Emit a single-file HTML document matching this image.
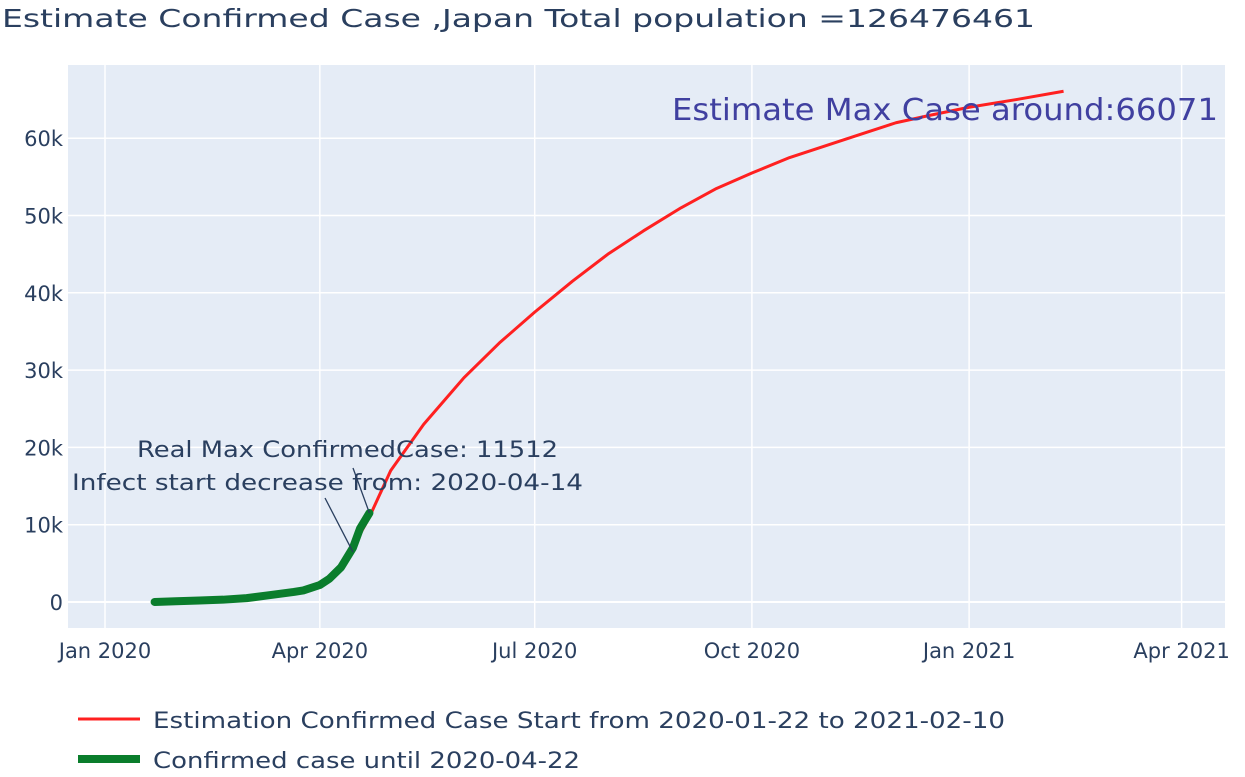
<!DOCTYPE html>
<html><head><meta charset="utf-8"><style>
body{margin:0;background:#fff;width:1245px;height:773px;overflow:hidden;font-family:"DejaVu Sans",sans-serif}
text{font-family:"DejaVu Sans","Liberation Sans",sans-serif}
</style></head><body>
<svg id="c" width="1245" height="773" xmlns="http://www.w3.org/2000/svg">
<text x="2" y="27" font-size="25" fill="#2a3f5f" textLength="1033" lengthAdjust="spacingAndGlyphs">Estimate Confirmed Case ,Japan Total population =126476461</text>
<rect x="68" y="65" width="1157" height="563" fill="#e5ecf6"/>
<g id="grid"></g>
<g id="series"></g>
<g id="ann"></g>
<g>
<line x1="78" y1="719" x2="140" y2="719" stroke="#ff2020" stroke-width="3"/>
<text x="153" y="728" font-size="22" fill="#2a3f5f" textLength="852" lengthAdjust="spacingAndGlyphs">Estimation Confirmed Case Start from 2020-01-22 to 2021-02-10</text>
<line x1="78" y1="759" x2="140" y2="759" stroke="#0a7d2c" stroke-width="8"/>
<text x="153" y="768" font-size="22" fill="#2a3f5f" textLength="427" lengthAdjust="spacingAndGlyphs">Confirmed case until 2020-04-22</text>
</g>
</svg>
<script>
const yTicks=[0,10000,20000,30000,40000,50000,60000];
const yTickLabels=["0","10k","20k","30k","40k","50k","60k"];
const xTickDays=[0,91,182,274,366,456];
const xTickLabels=["Jan 2020","Apr 2020","Jul 2020","Oct 2020","Jan 2021","Apr 2021"];
const estDays=[21,30,40,50,60,70,80,91,100,112,121,135,152,167,182,198,213,228,244,259,274,290,305,320,335,350,366,386,406];
const estValues=[0,100,200,300,500,900,1300,2000,4300,11000,17000,23000,29000,33500,37500,41500,45000,48000,51000,53500,55500,57500,59000,60500,62000,63000,64000,65000,66071];
const confDays=[21,30,40,50,60,70,80,84,91,95,100,105,108,112];
const confValues=[0,100,200,300,500,900,1300,1500,2200,3000,4500,7000,9500,11512];
const NS="http://www.w3.org/2000/svg";
const xs=d=>105+d*2.361;
const ys=v=>602-v*0.00773;
function mk(t,a,p){const e=document.createElementNS(NS,t);for(const k in a)e.setAttribute(k,a[k]);p.appendChild(e);return e;}
const g=document.getElementById('grid');
yTicks.forEach((v,i)=>{
 const l=mk('line',{x1:68,x2:1225,y1:ys(v),y2:ys(v),stroke:'#fff','stroke-width':v===0?2:1.5},g);
 
 const t=mk('text',{x:63,y:ys(v)+8,'text-anchor':'end','font-size':21,fill:'#2a3f5f'},g);
 t.textContent=yTickLabels[i];
 
});
xTickDays.forEach((d,i)=>{
 const l=mk('line',{x1:xs(d),x2:xs(d),y1:65,y2:628,stroke:'#fff','stroke-width':1.5},g);
 
 const t=mk('text',{x:xs(d),y:658,'text-anchor':'middle','font-size':21,fill:'#2a3f5f'},g);
 t.textContent=xTickLabels[i];
 
});
const s=document.getElementById('series');
const p1=mk('polyline',{points:estDays.map((d,i)=>xs(d)+','+ys(estValues[i])).join(' '),fill:'none',stroke:'#ff2020','stroke-width':3,'stroke-linejoin':'round'},s);

const p2=mk('polyline',{points:confDays.map((d,i)=>xs(d)+','+ys(confValues[i])).join(' '),fill:'none',stroke:'#0a7d2c','stroke-width':8,'stroke-linejoin':'round','stroke-linecap':'round'},s);

const a=document.getElementById('ann');
const lastD=confDays[confDays.length-1],lastV=confValues[confValues.length-1];
const a1=mk('line',{x1:xs(lastD),y1:ys(lastV),x2:353,y2:468,stroke:'#2a3f5f','stroke-width':1.3},a);

const a2=mk('line',{x1:xs(105),y1:ys(7000)+4,x2:325,y2:498,stroke:'#2a3f5f','stroke-width':1.3},a);

const t1=mk('text',{x:137,y:457,'font-size':22,fill:'#2a3f5f',textLength:421,lengthAdjust:'spacingAndGlyphs'},a);
t1.textContent='Real Max ConfirmedCase: 11512';

const t2=mk('text',{x:72,y:490,'font-size':22,fill:'#2a3f5f',textLength:511,lengthAdjust:'spacingAndGlyphs'},a);
t2.textContent='Infect start decrease from: 2020-04-14';

const t3=mk('text',{x:672,y:120,'font-size':30,fill:'#4040a0',textLength:546,lengthAdjust:'spacingAndGlyphs'},a);
t3.textContent='Estimate Max Case around:66071';

</script>
</body></html>
